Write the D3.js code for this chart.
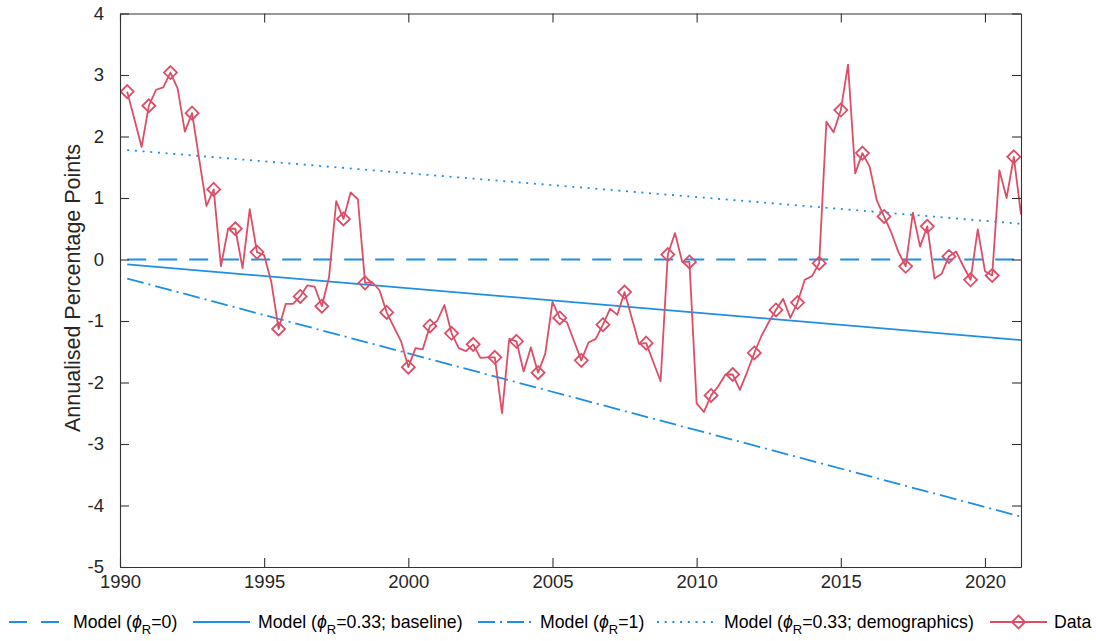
<!DOCTYPE html>
<html>
<head>
<meta charset="UTF-8" />
<title>Model vs Data</title>
<style>
  body { margin: 0; background: #fff; }
  svg { font-family: "Liberation Sans", Arial, sans-serif; }
</style>
</head>
<body>
<script src="https://d3js.org/d3.v7.min.js"></script>
<script>
// quarterly data, first observation 1990.25, step 0.25
var dataStart = 1990.25;
var dataValues = [
  2.73, 2.28, 1.83, 2.50, 2.76, 2.80, 3.04, 2.78, 2.08, 2.38,
  1.62, 0.87, 1.14, -0.11, 0.50, 0.50, -0.14, 0.82, 0.12, 0.07,
  -0.37, -1.13, -0.72, -0.72, -0.60, -0.42, -0.44, -0.76, -0.29, 0.95,
  0.66, 1.09, 0.98, -0.38, -0.37, -0.50, -0.86, -1.10, -1.33, -1.75,
  -1.44, -1.46, -1.08, -1.00, -0.74, -1.20, -1.44, -1.49, -1.38, -1.60,
  -1.59, -1.59, -2.50, -1.29, -1.33, -1.82, -1.43, -1.84, -1.53, -0.69,
  -0.95, -1.02, -1.33, -1.64, -1.35, -1.29, -1.06, -0.80, -0.90, -0.53,
  -0.95, -1.37, -1.36, -1.67, -1.98, 0.08, 0.43, -0.04, -0.04, -2.34,
  -2.48, -2.21, -2.06, -1.87, -1.87, -2.12, -1.83, -1.52, -1.24, -1.02,
  -0.82, -0.64, -0.95, -0.70, -0.33, -0.27, -0.06, 2.24, 2.07, 2.43,
  3.17, 1.40, 1.73, 1.51, 0.96, 0.70, 0.44, 0.12, -0.11, 0.76,
  0.21, 0.54, -0.31, -0.23, 0.05, 0.13, -0.11, -0.33, 0.49, -0.19,
  -0.26, 1.45, 1.00, 1.67, 0.73
];

// model lines (start and end points)
var modelYears = [1990.25, 2021.25];
var modelPhi0 = [0, 0];
var modelBaseline = [-0.08, -1.31];
var modelPhi1 = [-0.31, -4.18];
var modelDemographics = [1.78, 0.58];

var xTicks = [1990, 1995, 2000, 2005, 2010, 2015, 2020];
var yTicks = [-5, -4, -3, -2, -1, 0, 1, 2, 3, 4];

var blue = "#1f8fe4";
var red = "#dd4e66";

var svg = d3.select("body").append("svg")
  .attr("width", 1096)
  .attr("height", 641);

var x = d3.scaleLinear().domain([1990, 2021.25]).range([120, 1021]);
var y = d3.scaleLinear().domain([-5, 4]).range([567, 13.5]);

svg.append("clipPath").attr("id", "plot")
  .append("rect")
  .attr("x", 120).attr("y", 13.5)
  .attr("width", 901).attr("height", 553.5);

var line = d3.line()
  .x(function(d) { return x(d[0]); })
  .y(function(d) { return y(d[1]); });

var data = dataValues.map(function(v, i) {
  return [dataStart + i * 0.25, v];
});

function modelPoints(vals) {
  return modelYears.map(function(yr, i) { return [yr, vals[i]]; });
}

var models = [
  { vals: modelPhi0, dash: "19,12" },
  { vals: modelBaseline, dash: null },
  { vals: modelPhi1, dash: "17,5,2,5" },
  { vals: modelDemographics, dash: "2,5.7" }
];

var g = svg.append("g").attr("clip-path", "url(#plot)");

g.selectAll(".model")
  .data(models)
  .join("path")
  .attr("class", "model")
  .attr("fill", "none")
  .attr("stroke", blue)
  .attr("stroke-width", 1.8)
  .attr("stroke-dasharray", function(d) { return d.dash; })
  .attr("d", function(d) { return line(modelPoints(d.vals)); });

g.append("path")
  .attr("fill", "none")
  .attr("stroke", red)
  .attr("stroke-width", 1.8)
  .attr("stroke-linejoin", "round")
  .attr("d", line(data));

var diamond = function(cx, cy, r) {
  return "M" + cx + "," + (cy - r) + "L" + (cx + r) + "," + cy +
    "L" + cx + "," + (cy + r) + "L" + (cx - r) + "," + cy + "Z";
};

g.selectAll(".marker")
  .data(data.filter(function(d, i) { return i % 3 === 0; }))
  .join("path")
  .attr("class", "marker")
  .attr("fill", "none")
  .attr("stroke", red)
  .attr("stroke-width", 1.8)
  .attr("d", function(d) { return diamond(x(d[0]), y(d[1]), 6.5); });

// axes box with inward ticks
var axisColor = "#333";
var axBottom = svg.append("g").attr("transform", "translate(0,567)")
  .call(d3.axisBottom(x).tickValues(xTicks).tickFormat(String)
    .tickSizeInner(-9).tickSizeOuter(0).tickPadding(8));
var axTop = svg.append("g").attr("transform", "translate(0,13.5)")
  .call(d3.axisTop(x).tickValues(xTicks).tickFormat("")
    .tickSizeInner(-9).tickSizeOuter(0));
var axLeft = svg.append("g").attr("transform", "translate(120,0)")
  .call(d3.axisLeft(y).tickValues(yTicks).tickFormat(String)
    .tickSizeInner(-9).tickSizeOuter(0).tickPadding(16));
var axRight = svg.append("g").attr("transform", "translate(1021,0)")
  .call(d3.axisRight(y).tickValues(yTicks).tickFormat("")
    .tickSizeInner(-9).tickSizeOuter(0));

[axBottom, axTop, axLeft, axRight].forEach(function(a) {
  a.selectAll("path, line").attr("stroke", axisColor).attr("stroke-width", 1.1);
  a.selectAll("text").attr("fill", "#262626").style("font-size", "18.5px")
    .style("font-family", "'Liberation Sans', Arial, sans-serif");
});

svg.append("text")
  .attr("transform", "translate(80,288) rotate(-90)")
  .attr("text-anchor", "middle")
  .attr("fill", "#262626")
  .style("font-size", "21.5px")
  .text("Annualised Percentage Points");

// legend
var legendY = 622;
var legendItems = [
  { x0: 9, x1: 59, dash: "18,14", color: blue, tx: 73, label: ["Model (", "\u03D5", "R", "=0)"] },
  { x0: 193, x1: 250, dash: null, color: blue, tx: 258, label: ["Model (", "\u03D5", "R", "=0.33; baseline)"] },
  { x0: 478, x1: 532, dash: "17,5,2,5", color: blue, tx: 540, label: ["Model (", "\u03D5", "R", "=1)"] },
  { x0: 657, x1: 716, dash: "2,5.7", color: blue, tx: 724, label: ["Model (", "\u03D5", "R", "=0.33; demographics)"] },
  { x0: 990, x1: 1047, dash: null, color: red, tx: 1054, label: ["Data"], marker: true }
];

var leg = svg.append("g").attr("class", "legend");
legendItems.forEach(function(it) {
  leg.append("line")
    .attr("x1", it.x0).attr("x2", it.x1)
    .attr("y1", legendY).attr("y2", legendY)
    .attr("stroke", it.color).attr("stroke-width", 1.8)
    .attr("stroke-dasharray", it.dash);
  if (it.marker) {
    leg.append("path")
      .attr("fill", "none").attr("stroke", it.color).attr("stroke-width", 1.8)
      .attr("d", diamond((it.x0 + it.x1) / 2, legendY, 6.5));
  }
  var t = leg.append("text")
    .attr("x", it.tx).attr("y", legendY + 6)
    .attr("fill", "#000")
    .style("font-size", "17.7px");
  if (it.label.length === 1) {
    t.text(it.label[0]);
  } else {
    t.append("tspan").text(it.label[0]);
    t.append("tspan").style("font-style", "italic").text(it.label[1]);
    t.append("tspan").attr("dy", 6).style("font-size", "13px").text(it.label[2]);
    t.append("tspan").attr("dy", -6).text(it.label[3]);
  }
});
</script>
</body>
</html>
